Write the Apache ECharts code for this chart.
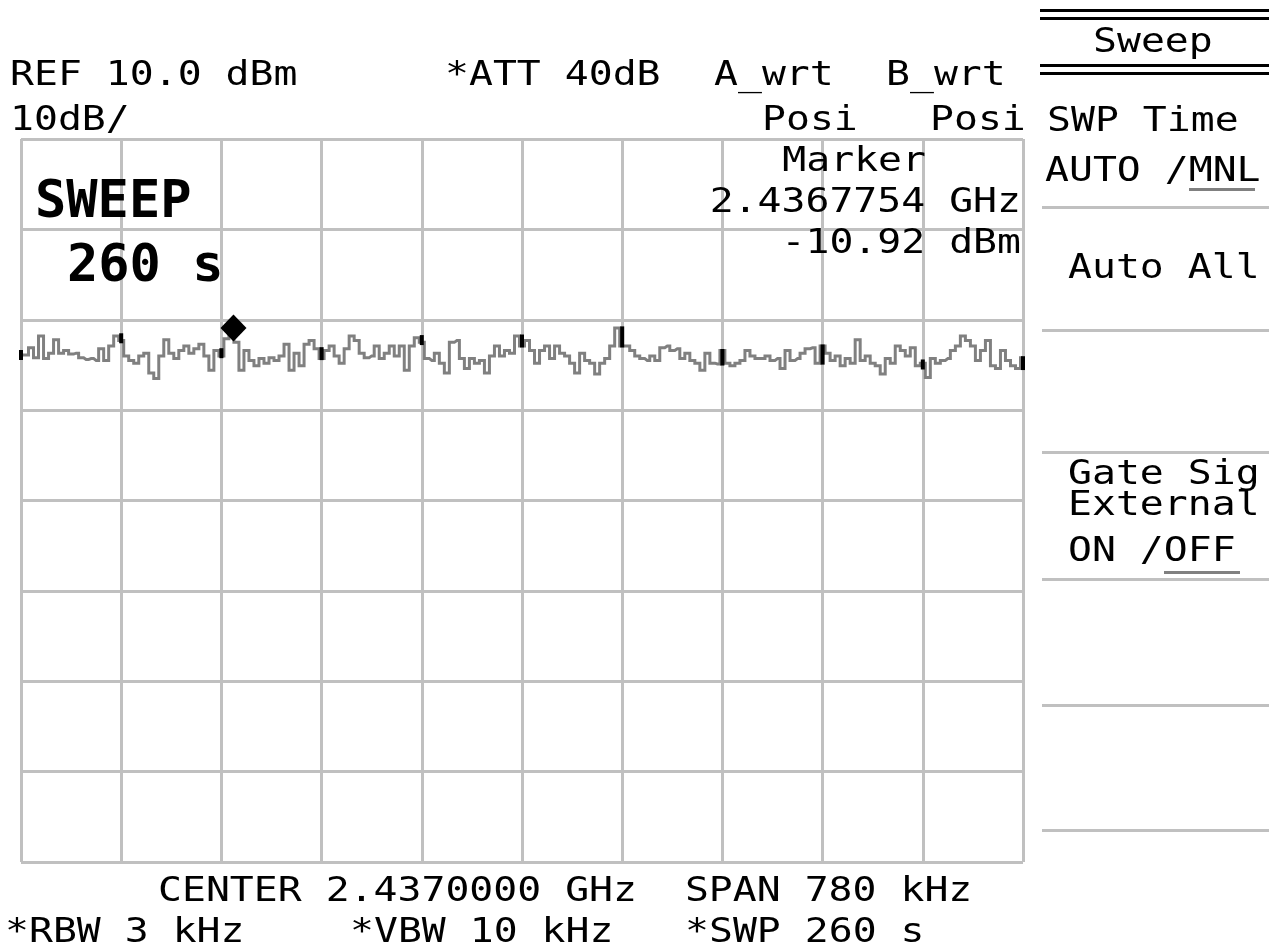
<!DOCTYPE html>
<html><head><meta charset="utf-8">
<script src="https://cdn.jsdelivr.net/npm/echarts@6/dist/echarts.min.js"></script>
<style>html,body{margin:0;padding:0;background:#fff}#c{width:1269px;height:951px}</style>
</head><body><div id="c"></div>
<script>
// ---- data ----
const refLevelDbm = 10;        // REF 10.0 dBm (top of screen)
const dbPerDiv = 10;           // 10dB/
const yDivs = 8;
const spanKHz = 780;           // SPAN 780 kHz, x axis = offset from start freq
const xDivs = 10;
const markerKHz = 165.4;       // 2.4367754 GHz relative to 2.43661 GHz start
const markerDbm = -10.92;
const traceDbm = [
  -13.9,-13.9,-13.1,-14.2,-11.8,-14.3,-13.7,-12.2,-13.7,-13.4,-13.8,-13.7,-14.2,-14.4,-14.3,-14.5,-13.2,-14.5,-12.9,-11.8,
  -12.3,-14.0,-14.5,-14.8,-14.0,-13.7,-15.9,-16.5,-14.0,-12.2,-13.7,-14.3,-13.4,-12.9,-13.7,-13.2,-12.7,-14.0,-15.6,-13.4,
  -14.0,-12.1,-10.9,-12.5,-15.6,-13.4,-14.5,-15.1,-14.3,-14.8,-14.2,-14.5,-14.0,-12.7,-15.6,-13.7,-15.1,-12.7,-12.3,-13.2,
  -14.3,-13.4,-12.9,-14.0,-14.8,-13.2,-11.8,-12.3,-13.7,-14.2,-14.0,-12.9,-14.3,-13.7,-12.9,-14.0,-12.9,-15.6,-12.9,-12.0,
  -12.5,-14.3,-14.5,-13.7,-14.8,-15.9,-12.5,-12.3,-14.3,-15.4,-14.3,-14.8,-14.5,-15.9,-14.0,-12.9,-14.0,-13.4,-13.7,-11.8,
  -12.9,-12.3,-13.4,-14.8,-13.4,-12.9,-14.3,-12.9,-13.7,-14.0,-14.8,-15.9,-13.7,-14.5,-14.8,-16.0,-14.8,-14.3,-12.9,-10.9,
  -12.9,-12.9,-13.4,-14.0,-14.3,-14.5,-14.0,-14.5,-13.1,-12.9,-13.4,-13.2,-14.3,-13.7,-14.5,-14.8,-15.6,-13.7,-14.8,-14.9,
  -13.4,-14.8,-15.1,-14.8,-14.5,-13.4,-14.0,-14.3,-14.3,-14.0,-14.5,-14.3,-15.4,-13.4,-14.5,-14.3,-13.7,-13.2,-13.1,-14.8,
  -12.9,-13.7,-14.5,-14.0,-15.1,-14.3,-14.8,-12.2,-14.5,-14.0,-14.8,-15.1,-16.0,-14.3,-14.8,-12.9,-13.4,-14.0,-13.1,-15.1,
  -14.8,-16.4,-14.3,-14.8,-14.5,-14.3,-13.4,-12.9,-11.8,-12.3,-12.9,-14.5,-13.4,-12.3,-15.1,-15.4,-13.4,-14.5,-15.1,-15.4,-14.2
];
const headerTexts = ['REF 10.0 dBm', '*ATT 40dB', 'A_wrt', 'B_wrt', '10dB/', 'Posi', 'Posi'];
const markerTexts = ['Marker', '2.4367754 GHz', '-10.92 dBm'];
const sweepTexts = ['SWEEP', '260 s'];
const footerTexts = ['CENTER 2.4370000 GHz  SPAN 780 kHz', '*RBW 3 kHz', '*VBW 10 kHz', '*SWP 260 s'];
const softkeyTexts = ['Sweep', 'SWP Time', 'AUTO /MNL', 'Auto All', 'Gate Sig', 'External', 'ON /OFF'];

// ---- derived ----
const N = traceDbm.length;
const traceX = traceDbm.map((v, i) => i * spanKHz / (N - 1));
const traceData = traceDbm.map((v, i) => [traceX[i], v]);
const gridIdx = [];
for (let k = 0; k <= xDivs; k++) gridIdx.push(Math.round(k * (N - 1) / xDivs));
const crossData = gridIdx.map(i => [traceX[i], traceDbm[i], i]);

const MONO = '"DejaVu Sans Mono", "Liberation Mono", monospace';
const SX = 1.17;
function txt(s, x, y, align, opt) {
  opt = opt || {};
  const fs = opt.fs || 34;
  return {
    type: 'text', x: x, y: y, scaleX: opt.sx || SX, scaleY: 1, z: 100,
    style: {
      text: s, fill: '#000',
      font: (opt.bold ? 'bold ' : '') + fs + 'px ' + MONO,
      textAlign: align || 'left', align: align || 'left',
      textVerticalAlign: 'middle', verticalAlign: 'middle'
    }
  };
}
function rect(x, y, w, h, color) {
  return { type: 'rect', z: 90, shape: { x: x, y: y, width: w, height: h }, style: { fill: color } };
}

const graphics = [
  txt(headerTexts[0], 10, 76),
  txt(headerTexts[1], 445, 76),
  txt(headerTexts[2], 714, 76),
  txt(headerTexts[3], 886, 76),
  txt(headerTexts[4], 10, 121),
  txt(headerTexts[5], 762, 121),
  txt(headerTexts[6], 930, 121),
  txt(markerTexts[0], 926, 162, 'right'),
  txt(markerTexts[1], 1021, 203, 'right'),
  txt(markerTexts[2], 1021, 244, 'right'),
  txt(sweepTexts[0], 35, 203, 'left', { fs: 52, bold: true, sx: 1.0 }),
  txt(sweepTexts[1], 67, 267, 'left', { fs: 52, bold: true, sx: 1.0 }),
  txt(footerTexts[0], 158, 892),
  txt(footerTexts[1], 5, 933),
  txt(footerTexts[2], 350, 933),
  txt(footerTexts[3], 685, 933),
  txt(softkeyTexts[0], 1093, 43),
  txt(softkeyTexts[1], 1047, 122),
  txt(softkeyTexts[2], 1045, 172),
  txt(softkeyTexts[3], 1068, 269),
  txt(softkeyTexts[4], 1068, 475),
  txt(softkeyTexts[5], 1068, 506),
  txt(softkeyTexts[6], 1068, 552),
  // softkey frame lines
  rect(1040, 9, 229, 3, '#000'),
  rect(1040, 17, 229, 3, '#000'),
  rect(1040, 64, 229, 3, '#000'),
  rect(1040, 72, 229, 3, '#000'),
  rect(1042, 206, 227, 3, '#c0c0c0'),
  rect(1042, 329, 227, 3, '#c0c0c0'),
  rect(1042, 451, 227, 3, '#c0c0c0'),
  rect(1042, 578, 227, 3, '#c0c0c0'),
  rect(1042, 704, 227, 3, '#c0c0c0'),
  rect(1042, 829, 227, 3, '#c0c0c0'),
  // underlines of selected options
  rect(1189, 188, 66, 3, '#808080'),
  rect(1164, 571, 76, 3, '#808080')
];

const chart = echarts.init(document.getElementById('c'), null, { renderer: 'canvas' });
chart.setOption({
  animation: false,
  backgroundColor: '#fff',
  grid: { left: 21, right: 246, top: 139, bottom: 89, containLabel: false },
  xAxis: {
    type: 'value', min: 0, max: spanKHz, interval: spanKHz / xDivs,
    axisLabel: { show: false }, axisTick: { show: false },
    axisLine: { show: false },
    splitLine: { show: true, showMinLine: true, showMaxLine: true, lineStyle: { color: '#c0c0c0', width: 3 } }
  },
  yAxis: {
    type: 'value', min: refLevelDbm - dbPerDiv * yDivs, max: refLevelDbm, interval: dbPerDiv,
    axisLabel: { show: false }, axisTick: { show: false },
    axisLine: { show: false },
    splitLine: { show: true, showMinLine: true, showMaxLine: true, lineStyle: { color: '#c0c0c0', width: 3 } }
  },
  graphic: graphics,
  series: [
    {
      type: 'line', data: traceData, step: 'middle', symbol: 'none',
      lineStyle: { color: '#808080', width: 3, cap: 'butt', join: 'miter' },
      z: 3, silent: true
    },
    {
      type: 'custom', data: crossData, z: 4, silent: true,
      renderItem: function (params, api) {
        const i = api.value(2);
        const j = i > 0 ? i - 1 : i + 1;
        const p1 = api.coord([traceX[i], traceDbm[i]]);
        const p0 = api.coord([traceX[i], traceDbm[j]]);
        let y0 = Math.min(p0[1], p1[1]) - 1.5, y1 = Math.max(p0[1], p1[1]) + 1.5;
        if (y1 - y0 < 10) { const c = (y0 + y1) / 2; y0 = c - 5; y1 = c + 5; }
        return { type: 'rect', shape: { x: p1[0] - 2, y: y0, width: 4, height: y1 - y0 }, style: { fill: '#000' } };
      }
    },
    {
      type: 'scatter', data: [[markerKHz, markerDbm]], symbol: 'diamond', symbolSize: [26, 27],
      itemStyle: { color: '#000', opacity: 1 }, z: 5, silent: true
    }
  ]
});
</script></body></html>
